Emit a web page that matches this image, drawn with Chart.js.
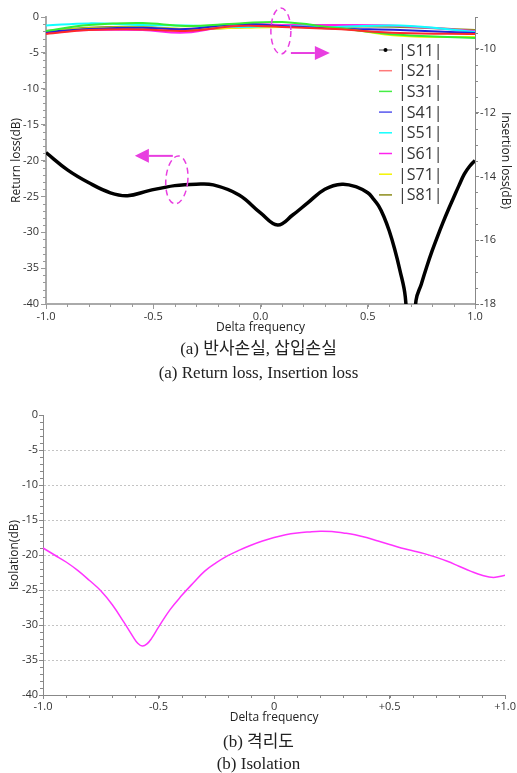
<!DOCTYPE html>
<html>
<head>
<meta charset="utf-8">
<script src="https://cdn.jsdelivr.net/npm/chart.js@4.4.1/dist/chart.umd.min.js"></script>
<style>
  body { margin: 0; background: #fff; width: 517px; height: 773px; position: relative; overflow: hidden; }
  canvas { position: absolute; left: 0; }
  .cap { position: absolute; left: 0; width: 517px; text-align: center; color: #222;
         font-family: "Liberation Serif", "Noto Sans CJK KR", serif; font-size: 17px; line-height: 20px; }
</style>
</head>
<body>
<canvas id="topChart" width="517" height="340" style="top:0"></canvas>
<div class="cap" style="top:339px">(a) 반사손실, 삽입손실</div>
<div class="cap" style="top:363px">(a) Return loss, Insertion loss</div>
<canvas id="isoChart" width="517" height="345" style="top:385px"></canvas>
<div class="cap" style="top:732px">(b) 격리도</div>
<div class="cap" style="top:754px">(b) Isolation</div>
<script>
// ---- return loss |S11| (left axis, dB)
const freqS11 = [-1.0, -0.9, -0.8, -0.7, -0.62, -0.52, -0.4, -0.3, -0.22, -0.1, 0.0, 0.08, 0.15, 0.22, 0.3, 0.38,
  0.45, 0.5, 0.525, 0.55, 0.575, 0.6, 0.625, 0.65, 0.675, 0.70, 0.725, 0.75, 0.775, 0.8, 0.825, 0.85, 0.875,
  0.9, 0.925, 0.95, 0.975, 1.0];
const s11 = [-18.9, -21.3, -23.1, -24.5, -24.9, -24.2, -23.5, -23.3, -23.4, -24.8, -27.3, -29.0, -27.6, -25.9, -24.0, -23.3,
  -23.7, -24.5, -25.3, -26.3, -27.8, -29.8, -32.3, -35.3, -39.0, -50.0, -39.5, -37.2, -34.8, -32.6, -30.6, -28.7, -26.9,
  -25.2, -23.5, -21.9, -20.8, -20.0];

// ---- insertion loss (right axis, dB)
const freqIL = [-1.0, -0.8, -0.55, -0.35, -0.1, 0.1, 0.35, 0.65, 1.0];
const s21 = [-9.53, -9.41, -9.39, -9.44, -9.28, -9.31, -9.38, -9.50, -9.53];
const s31 = [-9.44, -9.25, -9.19, -9.28, -9.20, -9.16, -9.34, -9.56, -9.66];
const s41 = [-9.47, -9.38, -9.34, -9.38, -9.22, -9.28, -9.36, -9.41, -9.50];
const s51 = [-9.27, -9.20, -9.25, -9.27, -9.31, -9.28, -9.31, -9.27, -9.47];
const s61 = [-9.50, -9.41, -9.41, -9.49, -9.23, -9.25, -9.25, -9.28, -9.44];
const s71 = [-9.45, -9.36, -9.33, -9.37, -9.34, -9.31, -9.33, -9.59, -9.63];
const s81 = [-9.44, -9.34, -9.31, -9.38, -9.33, -9.27, -9.30, -9.31, -9.41];

// ---- isolation
const freqIso = [-1.0, -0.95, -0.9, -0.85, -0.8, -0.75, -0.7, -0.65, -0.61, -0.59, -0.57, -0.55, -0.53, -0.5, -0.45,
  -0.4, -0.35, -0.3, -0.25, -0.2, -0.15, -0.1, -0.05, 0.0, 0.05, 0.1, 0.15, 0.2, 0.25, 0.3, 0.35, 0.4, 0.45, 0.5,
  0.55, 0.6, 0.65, 0.7, 0.75, 0.8, 0.85, 0.9, 0.95, 1.0];
const isolation = [-19.0, -20.0, -21.0, -22.2, -23.6, -25.1, -27.1, -29.6, -31.7, -32.6, -33.0, -32.7, -31.9, -30.3, -27.8,
  -25.8, -24.0, -22.3, -21.1, -20.1, -19.3, -18.6, -18.0, -17.5, -17.1, -16.85, -16.7, -16.6, -16.65, -16.85, -17.1,
  -17.5, -18.0, -18.5, -19.0, -19.4, -19.8, -20.3, -20.9, -21.6, -22.3, -22.9, -23.2, -22.9];

const pts = (xs, ys) => xs.map((x, i) => ({ x: x, y: ys[i] }));

Chart.defaults.font.family = '"Open Sans", "DejaVu Sans", sans-serif';
Chart.defaults.font.size = 11;
Chart.defaults.color = '#333';

// small ticks between the labelled ones
const minorTicks = (list) => ({
  id: 'minorTicks',
  afterDraw(chart) {
    const ctx = chart.ctx;
    list.forEach(m => {
      const s = chart.scales[m.id];
      const n = Math.round((s.max - s.min) / m.step);
      ctx.save();
      ctx.strokeStyle = m.color;
      ctx.lineWidth = 1;
      ctx.beginPath();
      for (let i = 0; i <= n; i++) {
        const p = Math.round(s.getPixelForValue(s.min + i * m.step)) + 0.5;
        if (s.position === 'left') { ctx.moveTo(s.right, p); ctx.lineTo(s.right - m.len, p); }
        else if (s.position === 'right') { ctx.moveTo(s.left, p); ctx.lineTo(s.left + m.len, p); }
        else { ctx.moveTo(p, s.top); ctx.lineTo(p, s.top + m.len); }
      }
      ctx.stroke();
      ctx.restore();
    });
  }
});

// legend drawn inside the plot, top right
const insideLegend = {
  id: 'insideLegend',
  afterDraw(chart) {
    const ctx = chart.ctx, a = chart.chartArea;
    const x0 = a.right - 96, y0 = a.top + 33;
    ctx.save();
    ctx.font = '16px "Open Sans", sans-serif';
    ctx.textBaseline = 'middle';
    chart.data.datasets.forEach((d, i) => {
      const y = y0 + i * 20.7;
      ctx.strokeStyle = d.legendColor || d.borderColor;
      ctx.lineWidth = 1.5;
      ctx.beginPath(); ctx.moveTo(x0, y); ctx.lineTo(x0 + 13, y); ctx.stroke();
      if (i === 0) {
        ctx.fillStyle = '#000';
        ctx.beginPath(); ctx.arc(x0 + 6.5, y, 2, 0, Math.PI * 2); ctx.fill();
      }
      ctx.fillStyle = '#333';
      ctx.fillText(d.label, x0 + 19, y + 1);
    });
    ctx.restore();
  }
};

// dashed ellipses and arrows pointing at the axes
const axisMarks = {
  id: 'axisMarks',
  afterDraw(chart) {
    const ctx = chart.ctx, sx = chart.scales.x;
    const pink = '#e83ee0';
    const arrow = (x1, y, xBase, xTip) => {
      ctx.beginPath(); ctx.moveTo(x1, y); ctx.lineTo(xBase, y); ctx.stroke();
      ctx.beginPath(); ctx.moveTo(xTip, y); ctx.lineTo(xBase, y - 7); ctx.lineTo(xBase, y + 7); ctx.closePath(); ctx.fill();
    };
    ctx.save();
    ctx.strokeStyle = pink; ctx.fillStyle = pink; ctx.lineWidth = 1.5;
    // left marker (return loss)
    let cx = sx.getPixelForValue(-0.39), cy = chart.scales.y.getPixelForValue(-22.7);
    ctx.setLineDash([6, 4]);
    ctx.beginPath(); ctx.ellipse(cx, cy, 11, 24, 0.08, 0, Math.PI * 2); ctx.stroke();
    ctx.setLineDash([]);
    ctx.lineWidth = 2;
    arrow(cx - 4, cy - 24, cx - 28, cx - 42);
    // right marker (insertion loss)
    cx = sx.getPixelForValue(0.095); cy = chart.scales.y2.getPixelForValue(-9.44);
    ctx.lineWidth = 1.5;
    ctx.setLineDash([6, 4]);
    ctx.beginPath(); ctx.ellipse(cx, cy, 10, 23, 0, 0, Math.PI * 2); ctx.stroke();
    ctx.setLineDash([]);
    ctx.lineWidth = 2;
    arrow(cx + 10, cy + 22, cx + 34, cx + 49);
    ctx.restore();
  }
};

const ilLine = (label, data, color, legendColor) => ({
  label: label, data: pts(freqIL, data), yAxisID: 'y2',
  borderColor: color, legendColor: legendColor, borderWidth: 2, pointRadius: 0, tension: 0.4
});

new Chart(document.getElementById('topChart'), {
  type: 'line',
  data: {
    datasets: [
      { label: '|S11|', data: pts(freqS11, s11), yAxisID: 'y', borderColor: '#000', legendColor: '#888',
        borderWidth: 3.5, pointRadius: 0, tension: 0.4 },
      ilLine('|S21|', s21, '#ff2a2a', '#ff7a7a'),
      ilLine('|S31|', s31, '#33ee33', '#44ee44'),
      ilLine('|S41|', s41, '#2222dd', '#5555ee'),
      ilLine('|S51|', s51, '#11ffff', '#11ffff'),
      ilLine('|S61|', s61, '#ff22ee', '#ff22ee'),
      ilLine('|S71|', s71, '#f4f400', '#f4f400'),
      ilLine('|S81|', s81, '#8c8c1a', '#8c8c1a')
    ]
  },
  options: {
    responsive: false,
    animation: false,
    layout: { padding: { top: 17, left: 0, right: 0, bottom: 0 } },
    plugins: { legend: { display: false }, tooltip: { enabled: false } },
    scales: {
      x: {
        type: 'linear', min: -1, max: 1,
        afterFit: s => { s.height = 36; },
        ticks: { stepSize: 0.5, padding: 1, callback: v => v.toFixed(1) },
        grid: { drawOnChartArea: false, tickLength: 5, tickColor: '#999' },
        border: { color: '#aaa', width: 2 },
        title: { display: true, text: 'Delta frequency', font: { size: 12 }, color: '#222', padding: { top: 0, bottom: 5 } }
      },
      y: {
        position: 'left', min: -40, max: 0,
        afterFit: s => { s.width = 46; },
        ticks: { stepSize: 5, padding: 2 },
        grid: { drawOnChartArea: false, tickLength: 5, tickColor: '#999' },
        border: { color: '#aaa', width: 2 },
        title: { display: true, text: 'Return loss(dB)', font: { size: 12 }, color: '#222', padding: { top: 9, bottom: 0 } }
      },
      y2: {
        position: 'right', min: -18, max: -9,
        afterFit: s => { s.width = 42; },
        ticks: { stepSize: 2, includeBounds: false, padding: 1 },
        grid: { drawOnChartArea: false, tickLength: 4, tickColor: '#888' },
        border: { color: '#888', width: 1 },
        title: { display: true, text: 'Insertion loss(dB)', font: { size: 12 }, color: '#222', padding: { top: 4, bottom: 0 } }
      }
    }
  },
  plugins: [
    minorTicks([
      { id: 'x', step: 0.1, len: 3, color: '#999' },
      { id: 'y', step: 1, len: 3, color: '#999' },
      { id: 'y2', step: 0.5, len: 3, color: '#888' }
    ]),
    insideLegend,
    axisMarks
  ]
});

new Chart(document.getElementById('isoChart'), {
  type: 'line',
  data: {
    datasets: [
      { label: 'Isolation', data: pts(freqIso, isolation), borderColor: '#ff33ff', borderWidth: 1.5,
        pointRadius: 0, tension: 0.4 }
    ]
  },
  options: {
    responsive: false,
    animation: false,
    layout: { padding: { top: 30, left: 0, right: 9, bottom: 0 } },
    plugins: { legend: { display: false }, tooltip: { enabled: false } },
    scales: {
      x: {
        type: 'linear', min: -1, max: 1,
        afterFit: s => { s.height = 35; },
        ticks: {
          stepSize: 0.5, padding: 1,
          callback: v => v === 0 ? '0' : (v > 0 ? '+' : '') + v.toFixed(1)
        },
        grid: { drawOnChartArea: false, tickLength: 4, tickColor: '#888' },
        border: { color: '#888', width: 1 },
        title: { display: true, text: 'Delta frequency', font: { size: 12 }, color: '#222', padding: { top: 0, bottom: 5 } }
      },
      y: {
        min: -40, max: 0,
        afterFit: s => { s.width = 43; },
        ticks: { stepSize: 5, padding: 1 },
        grid: {
          tickLength: 4, tickColor: '#888',
          color: c => (c.tick && (c.tick.value === 0 || c.tick.value === -40)) ? 'rgba(0,0,0,0)' : '#c4c4c4'
        },
        border: { color: '#888', width: 1, dash: [2, 2] },
        title: { display: true, text: 'Isolation(dB)', font: { size: 12 }, color: '#222', padding: { top: 7, bottom: 0 } }
      }
    }
  },
  plugins: [
    minorTicks([
      { id: 'x', step: 0.1, len: 3, color: '#888' },
      { id: 'y', step: 1, len: 3, color: '#888' }
    ])
  ]
});
</script>
</body>
</html>
